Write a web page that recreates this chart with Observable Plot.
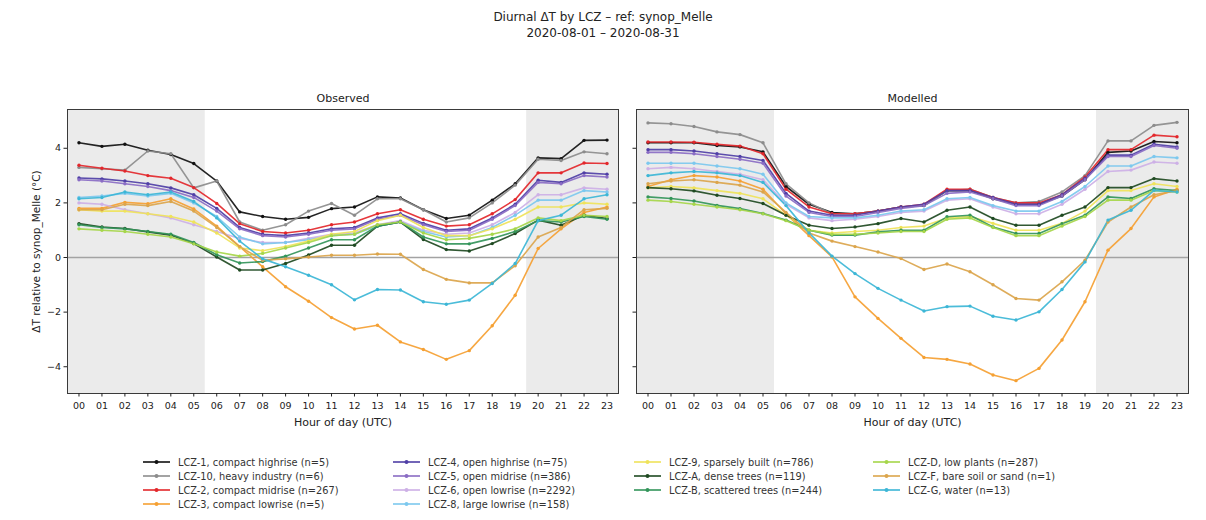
<!DOCTYPE html>
<html>
<head>
<meta charset="utf-8">
<script src="https://cdn.jsdelivr.net/npm/d3@7"></script>
<script src="https://cdn.jsdelivr.net/npm/@observablehq/plot@0.6"></script>
<style>
  body { margin: 0; background: #fff; font-family: "DejaVu Sans", sans-serif; color: #222; }
  #fig { position: relative; width: 1206px; height: 520px; overflow: hidden; background: #fff; }
  #title { position: absolute; left: 0; width: 1206px; top: 9px; text-align: center; font-size: 12px; line-height: 16px; color: #222; }
  .panel { position: absolute; top: 70px; }
  #legend { position: absolute; left: 0; top: 0; width: 1206px; height: 520px; pointer-events: none; }
  .lg-item { position: absolute; display: flex; align-items: center; font-size: 9.8px; color: #333; white-space: nowrap; height: 14px; }
  .lg-item svg { margin-right: 8px; }
</style>
</head>
<body>
<div id="fig">
  <div id="title">Diurnal ΔT by LCZ – ref: synop_Melle<br>2020-08-01 – 2020-08-31</div>
  <div id="obs" class="panel" style="left:0px"></div>
  <div id="mod" class="panel" style="left:627px"></div>
  <div id="legend"></div>
</div>
<script>
// Hours of the day (UTC) and y-axis ticks
const hours = [0, 1, 2, 3, 4, 5, 6, 7, 8, 9, 10, 11, 12, 13, 14, 15, 16, 17, 18, 19, 20, 21, 22, 23];
const yTicks = [-4, -2, 0, 2, 4];

// Night-time spans shaded on both panels (hours)
const nightStart = [-0.5, 19.5];
const nightEnd = [5.5, 23.5];

// Local climate zones, in legend order
const lczNames = [
  "LCZ-1, compact highrise (n=5)",
  "LCZ-10, heavy industry (n=6)",
  "LCZ-2, compact midrise (n=267)",
  "LCZ-3, compact lowrise (n=5)",
  "LCZ-4, open highrise (n=75)",
  "LCZ-5, open midrise (n=386)",
  "LCZ-6, open lowrise (n=2292)",
  "LCZ-8, large lowrise (n=158)",
  "LCZ-9, sparsely built (n=786)",
  "LCZ-A, dense trees (n=119)",
  "LCZ-B, scattered trees (n=244)",
  "LCZ-D, low plants (n=287)",
  "LCZ-F, bare soil or sand (n=1)",
  "LCZ-G, water (n=13)"
];
const lczColors = [
  "#111111", "#8c8c8c", "#e3272b", "#f5a032", "#4f3fa6", "#8a6cc4", "#cdb0e6",
  "#7cc8ee", "#efe35a", "#1f4a22", "#33955a", "#a6d64a", "#dba54c", "#3cb6d6"
];

// Observed mean ΔT (°C) per hour
const obsLCZ1  = [4.2, 4.07, 4.15, 3.93, 3.77, 3.44, 2.8, 1.67, 1.5, 1.4, 1.47, 1.79, 1.85, 2.22, 2.18, 1.75, 1.43, 1.55, 2.1, 2.7, 3.65, 3.62, 4.29, 4.3];
const obsLCZ10 = [3.3, 3.25, 3.2, 3.9, 3.8, 2.55, 2.8, 1.3, 1.0, 1.2, 1.7, 1.98, 1.55, 2.15, 2.15, 1.75, 1.3, 1.45, 2.0, 2.65, 3.6, 3.55, 3.87, 3.8];
const obsLCZ2  = [3.38, 3.27, 3.17, 3.0, 2.9, 2.56, 1.98, 1.24, 0.95, 0.9, 1.0, 1.2, 1.3, 1.6, 1.75, 1.4, 1.15, 1.2, 1.6, 2.12, 3.1, 3.1, 3.46, 3.44];
const obsLCZ3  = [1.8, 1.8, 2.02, 1.97, 2.15, 1.78, 1.15, 0.4, -0.34, -1.07, -1.6, -2.2, -2.62, -2.48, -3.09, -3.37, -3.73, -3.41, -2.5, -1.38, 0.33, 1.05, 1.65, 1.85];
const obsLCZ4  = [2.91, 2.88, 2.8, 2.7, 2.55, 2.3, 1.8, 1.1, 0.85, 0.8, 0.9, 1.05, 1.1, 1.45, 1.6, 1.25, 1.0, 1.05, 1.45, 1.95, 2.83, 2.75, 3.1, 3.05];
const obsLCZ5  = [2.85, 2.8, 2.7, 2.6, 2.45, 2.2, 1.7, 1.05, 0.8, 0.75, 0.85, 1.0, 1.05, 1.4, 1.55, 1.2, 0.95, 1.0, 1.4, 1.9, 2.75, 2.7, 3.0, 2.95];
const obsLCZ6  = [2.0, 1.95, 1.75, 1.6, 1.45, 1.2, 0.95, 0.7, 0.55, 0.55, 0.7, 0.85, 0.9, 1.2, 1.35, 1.0, 0.85, 0.9, 1.2, 1.65, 2.3, 2.3, 2.55, 2.5];
const obsLCZ8  = [2.2, 2.25, 2.35, 2.25, 2.35, 2.0, 1.5, 0.75, 0.5, 0.55, 0.65, 0.8, 0.85, 1.15, 1.3, 0.95, 0.75, 0.8, 1.1, 1.55, 2.1, 2.1, 2.45, 2.4];
const obsLCZ9  = [1.75, 1.7, 1.7, 1.6, 1.5, 1.3, 0.9, 0.35, 0.25, 0.4, 0.6, 0.85, 0.95, 1.35, 1.55, 1.1, 0.8, 0.8, 1.05, 1.4, 1.85, 1.85, 2.0, 1.95];
const obsLCZA  = [1.24, 1.12, 1.06, 0.94, 0.82, 0.51, 0.02, -0.46, -0.46, -0.22, 0.09, 0.45, 0.45, 1.15, 1.3, 0.66, 0.29, 0.24, 0.51, 0.88, 1.37, 1.18, 1.55, 1.43];
const obsLCZB  = [1.2, 1.1, 1.05, 0.95, 0.85, 0.55, 0.1, -0.2, -0.15, 0.05, 0.35, 0.65, 0.65, 1.15, 1.3, 0.75, 0.5, 0.5, 0.7, 0.95, 1.35, 1.3, 1.5, 1.4];
const obsLCZD  = [1.05, 1.0, 0.95, 0.85, 0.75, 0.5, 0.2, 0.05, 0.15, 0.35, 0.55, 0.8, 0.85, 1.2, 1.3, 0.9, 0.65, 0.7, 0.85, 1.05, 1.45, 1.35, 1.55, 1.5];
const obsLCZF  = [1.75, 1.75, 1.95, 1.9, 2.05, 1.7, 1.1, 0.4, -0.1, -0.05, 0.02, 0.08, 0.08, 0.13, 0.12, -0.44, -0.8, -0.93, -0.93, -0.3, 0.75, 1.1, 1.75, 1.8];
const obsLCZG  = [2.15, 2.2, 2.4, 2.3, 2.4, 2.05, 1.45, 0.6, -0.05, -0.34, -0.65, -1.0, -1.55, -1.17, -1.19, -1.62, -1.71, -1.56, -0.95, -0.22, 1.35, 1.55, 2.15, 2.3];

// Modelled mean ΔT (°C) per hour
const modLCZ1  = [4.2, 4.2, 4.2, 4.1, 4.05, 3.87, 2.6, 1.95, 1.65, 1.6, 1.7, 1.85, 1.9, 2.45, 2.45, 2.15, 1.95, 1.95, 2.25, 2.85, 3.85, 3.9, 4.25, 4.2];
const modLCZ10 = [4.93, 4.9, 4.8, 4.6, 4.5, 4.2, 2.7, 2.0, 1.6, 1.6, 1.7, 1.85, 1.9, 2.45, 2.5, 2.2, 2.0, 2.05, 2.4, 3.0, 4.27, 4.27, 4.84, 4.95];
const modLCZ2  = [4.23, 4.23, 4.22, 4.15, 4.08, 3.8, 2.5, 1.85, 1.6, 1.6, 1.7, 1.85, 1.95, 2.5, 2.5, 2.2, 2.0, 2.0, 2.3, 2.95, 3.95, 3.95, 4.48, 4.42];
const modLCZ3  = [2.6, 2.85, 3.0, 2.95, 2.8, 2.5, 1.6, 0.8, 0.02, -1.44, -2.23, -2.96, -3.66, -3.73, -3.9, -4.3, -4.51, -4.06, -3.02, -1.62, 0.27, 1.06, 2.22, 2.5];
const modLCZ4  = [3.95, 3.95, 3.9, 3.8, 3.7, 3.55, 2.35, 1.7, 1.55, 1.55, 1.7, 1.85, 1.95, 2.45, 2.45, 2.2, 1.95, 1.95, 2.3, 2.9, 3.75, 3.75, 4.15, 4.05];
const modLCZ5  = [3.85, 3.85, 3.8, 3.7, 3.6, 3.45, 2.25, 1.65, 1.5, 1.5, 1.65, 1.8, 1.9, 2.35, 2.4, 2.15, 1.9, 1.9, 2.25, 2.85, 3.7, 3.7, 4.1, 4.0];
const modLCZ6  = [3.25, 3.3, 3.25, 3.15, 3.05, 2.85, 1.95, 1.45, 1.35, 1.4, 1.5, 1.65, 1.7, 2.1, 2.15, 1.85, 1.6, 1.6, 1.95, 2.5, 3.15, 3.2, 3.5, 3.45];
const modLCZ8  = [3.45, 3.45, 3.45, 3.35, 3.25, 3.05, 2.0, 1.5, 1.45, 1.45, 1.55, 1.7, 1.75, 2.15, 2.2, 1.9, 1.7, 1.7, 2.05, 2.6, 3.35, 3.35, 3.7, 3.65];
const modLCZ9  = [2.55, 2.6, 2.55, 2.45, 2.35, 2.15, 1.55, 1.0, 0.9, 0.95, 1.0, 1.1, 1.15, 1.45, 1.5, 1.25, 1.0, 1.0, 1.25, 1.7, 2.45, 2.45, 2.7, 2.6];
const modLCZA  = [2.56, 2.52, 2.44, 2.28, 2.16, 1.98, 1.55, 1.18, 1.06, 1.12, 1.24, 1.43, 1.3, 1.73, 1.85, 1.43, 1.18, 1.18, 1.55, 1.85, 2.56, 2.56, 2.89, 2.8];
const modLCZB  = [2.22, 2.16, 2.07, 1.91, 1.79, 1.61, 1.37, 1.0, 0.82, 0.82, 0.94, 1.0, 1.0, 1.49, 1.55, 1.12, 0.88, 0.88, 1.24, 1.55, 2.22, 2.16, 2.52, 2.45];
const modLCZD  = [2.1, 2.05, 1.95, 1.85, 1.75, 1.6, 1.35, 1.0, 0.85, 0.85, 0.9, 0.95, 0.95, 1.4, 1.45, 1.1, 0.8, 0.8, 1.15, 1.5, 2.1, 2.1, 2.45, 2.4];
const modLCZF  = [2.7, 2.8, 2.85, 2.75, 2.65, 2.4, 1.65, 0.9, 0.6, 0.4, 0.2, -0.04, -0.44, -0.24, -0.52, -1.0, -1.5, -1.56, -0.89, -0.1, 1.3, 1.85, 2.3, 2.45];
const modLCZG  = [3.0, 3.1, 3.15, 3.1, 3.0, 2.75, 1.9, 0.9, 0.05, -0.59, -1.13, -1.56, -1.96, -1.8, -1.78, -2.15, -2.29, -1.99, -1.17, -0.16, 1.37, 1.73, 2.46, 2.4];

const observed = [obsLCZ1, obsLCZ10, obsLCZ2, obsLCZ3, obsLCZ4, obsLCZ5, obsLCZ6, obsLCZ8, obsLCZ9, obsLCZA, obsLCZB, obsLCZD, obsLCZF, obsLCZG];
const modelled = [modLCZ1, modLCZ10, modLCZ2, modLCZ3, modLCZ4, modLCZ5, modLCZ6, modLCZ8, modLCZ9, modLCZA, modLCZB, modLCZD, modLCZF, modLCZG];

// Long-format rows for Plot
function toRows(seriesList) {
  const rows = [];
  seriesList.forEach((values, i) => {
    values.forEach((v, j) => rows.push({ lcz: lczNames[i], hour: hours[j], value: v }));
  });
  return rows;
}
const nightSpans = nightStart.map((s, i) => ({ start: s, end: nightEnd[i] }));
const pad2 = h => String(h).padStart(2, "0");

function panel({ rows, title, width, marginLeft, marginRight, showYLabels }) {
  const marks = [
    Plot.rect(nightSpans, { x1: "start", x2: "end", fill: "#ebebeb" }),
    Plot.ruleY([0], { stroke: "#a3a3a3", strokeWidth: 1.5 }),
    Plot.line(rows, { x: "hour", y: "value", z: "lcz", stroke: "lcz", strokeWidth: 1.6, strokeOpacity: 0.92 }),
    Plot.dot(rows, { x: "hour", y: "value", fill: "lcz", r: 1.7 }),
    Plot.frame({ stroke: "#3a3a3a", strokeWidth: 1 }),
    Plot.axisX({ ticks: hours, tickFormat: pad2, tickSize: 3.5, tickPadding: 5, label: null, fontSize: 9.5 }),
    Plot.axisY({ ticks: yTicks, tickSize: 3.5, tickPadding: 3, label: null, fontSize: 9.5,
                 tickFormat: showYLabels ? d3.format("d") : () => "" }),
    Plot.text([title], { frameAnchor: "top", lineAnchor: "bottom", dy: -8, fontSize: 11, fill: "#222" }),
    Plot.text(["Hour of day (UTC)"], { frameAnchor: "bottom", lineAnchor: "top", dy: 25, fontSize: 11, fill: "#222" })
  ];
  if (showYLabels) {
    marks.push(Plot.text(["ΔT relative to synop_Melle (°C)"], {
      frameAnchor: "left", textAnchor: "middle", rotate: -90, dx: -31, fontSize: 10.5, fill: "#222"
    }));
  }
  return Plot.plot({
    width, height: 363,
    marginLeft, marginRight, marginTop: 39, marginBottom: 40,
    style: { fontFamily: "DejaVu Sans", color: "#222", background: "transparent", overflow: "visible" },
    x: { domain: [-0.5, 23.5] },
    y: { domain: [-4.98, 5.42] },
    color: { domain: lczNames, range: lczColors },
    marks
  });
}

document.getElementById("obs").append(panel({ rows: toRows(observed), title: "Observed", width: 627, marginLeft: 67, marginRight: 9, showYLabels: true }));
document.getElementById("mod").append(panel({ rows: toRows(modelled), title: "Modelled", width: 579, marginLeft: 9, marginRight: 18, showYLabels: false }));

// Legend: four columns of line-and-marker samples
const legendCols = [143, 393, 634, 873];
const legendRows = [462, 476, 490, 504];
const perCol = [4, 4, 3, 3];
const legend = document.getElementById("legend");
let k = 0;
perCol.forEach((n, c) => {
  for (let r = 0; r < n; r++, k++) {
    const item = document.createElement("div");
    item.className = "lg-item";
    item.style.left = legendCols[c] + "px";
    item.style.top = (legendRows[r] - 7) + "px";
    const col = lczColors[k];
    item.innerHTML = `<svg width="27" height="8"><line x1="0" y1="4" x2="27" y2="4" stroke="${col}" stroke-width="1.6"/><circle cx="13.5" cy="4" r="2" fill="${col}"/></svg><span>${lczNames[k]}</span>`;
    legend.append(item);
  }
});
</script>
</body>
</html>
